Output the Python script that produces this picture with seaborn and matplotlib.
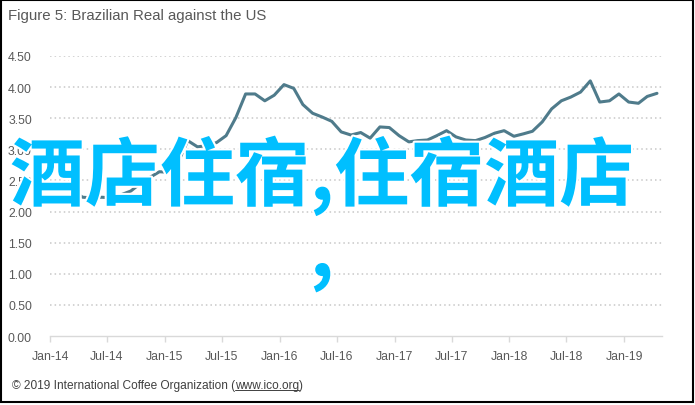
import matplotlib
matplotlib.use("Agg")
import matplotlib.pyplot as plt
import matplotlib.patheffects as pe
from matplotlib.patches import Rectangle
from matplotlib.lines import Line2D
import seaborn as sns
import pandas as pd

# ---- data ----
start_month = "2014-01-01"
brl_per_usd = [
    2.38, 2.38, 2.33, 2.23, 2.22, 2.23, 2.22, 2.27, 2.33, 2.45, 2.55, 2.64,   # 2014
    2.63, 2.82, 3.14, 3.04, 3.06, 3.11, 3.22, 3.51, 3.89, 3.89, 3.78, 3.87,   # 2015
    4.04, 3.98, 3.72, 3.58, 3.52, 3.45, 3.28, 3.23, 3.27, 3.18, 3.36, 3.35,   # 2016
    3.22, 3.12, 3.14, 3.15, 3.22, 3.30, 3.20, 3.15, 3.14, 3.19, 3.26, 3.30,   # 2017
    3.21, 3.25, 3.29, 3.44, 3.65, 3.78, 3.84, 3.92, 4.10, 3.76, 3.78, 3.89,   # 2018
    3.76, 3.74, 3.85, 3.90,                                                   # 2019
]
y_ticks = [0.0, 0.5, 1.0, 1.5, 2.0, 2.5, 3.0, 3.5, 4.0, 4.5]
x_tick_labels = ["Jan-14", "Jul-14", "Jan-15", "Jul-15", "Jan-16", "Jul-16",
                 "Jan-17", "Jul-17", "Jan-18", "Jul-18", "Jan-19"]
title = "Figure 5: Brazilian Real against the US"
footer_text = "\u00a9 2019 International Coffee Organization ("
footer_link = "www.ico.org"
overlay = "酒店住宿,住宿酒店\n,"

months = pd.date_range(start_month, periods=len(brl_per_usd), freq="MS") + pd.Timedelta(days=14)
df = pd.DataFrame({"month": months, "rate": brl_per_usd})

sns.set_theme(style="white")
plt.rcParams["font.family"] = ["Liberation Sans", "DejaVu Sans"]

W, H = 695, 406
fig = plt.figure(figsize=(W / 100, H / 100), dpi=100)
fig.patch.set_facecolor("white")
ax = fig.add_axes([50 / W, 1 - 337 / H, (662 - 50) / W, (337 - 57) / H])

sns.lineplot(data=df, x="month", y="rate", ax=ax, color="#4F7B8B", linewidth=2.2)

ax.set_ylim(0, 4.5)
ax.set_xlim(pd.Timestamp("2014-01-01"), pd.Timestamp("2019-05-01"))
ax.set_yticks(y_ticks)
ax.set_yticklabels([f"{v:.2f}" for v in y_ticks])
xt = pd.date_range("2014-01-01", periods=len(x_tick_labels), freq="6MS")
ax.set_xticks(xt)
ax.set_xticklabels(x_tick_labels)
ax.set_xlabel("")
ax.set_ylabel("")

for v in y_ticks[1:]:
    ax.axhline(v, color="#C8C8C8", linewidth=1.1, linestyle=(0, (1, 2)), zorder=0)

for s in ["top", "right", "left"]:
    ax.spines[s].set_visible(False)
ax.spines["bottom"].set_color("#D9D9D9")
ax.spines["bottom"].set_linewidth(1.0)
ax.tick_params(axis="x", direction="out", length=4, width=1, color="#D9D9D9",
               labelsize=8.8, labelcolor="#595959", pad=6, bottom=True)
ax.tick_params(axis="y", length=0, labelsize=8.8, labelcolor="#595959", pad=13)

# title
fig.text(8 / W, 1 - 16 / H, title, ha="left", va="center", fontsize=10.8, color="#595959")

# footer with underlined link
renderer = fig.canvas.get_renderer()
fy = 1 - 386 / H
t1 = fig.text(12 / W, fy, footer_text, ha="left", va="center", fontsize=8.6, color="#404040")
bb1 = t1.get_window_extent(renderer)
t2 = fig.text(bb1.x1 / W, fy, footer_link, ha="left", va="center", fontsize=8.6, color="#404040")
bb2 = t2.get_window_extent(renderer)
fig.text(bb2.x1 / W, fy, ")", ha="left", va="center", fontsize=8.6, color="#404040")
uy = (bb2.y0 + 1) / H
fig.add_artist(Line2D([bb2.x0 / W, bb2.x1 / W], [uy, uy], color="#404040", linewidth=0.7))

# overlay text
fig.text(322 / W, 1 - 215 / H, overlay, ha="center", va="center", fontsize=54,
         color="#00BFFF", family=["Noto Sans CJK SC", "DejaVu Sans"], weight="bold",
         linespacing=1.0,
         path_effects=[pe.withStroke(linewidth=3, foreground="white")])

# frame
fig.add_artist(Rectangle((0.5 / W, 3 / H), 692.5 / W, 402 / H, transform=fig.transFigure,
                         fill=False, edgecolor="black", linewidth=1.5))

fig.savefig("out.png", dpi=100)
